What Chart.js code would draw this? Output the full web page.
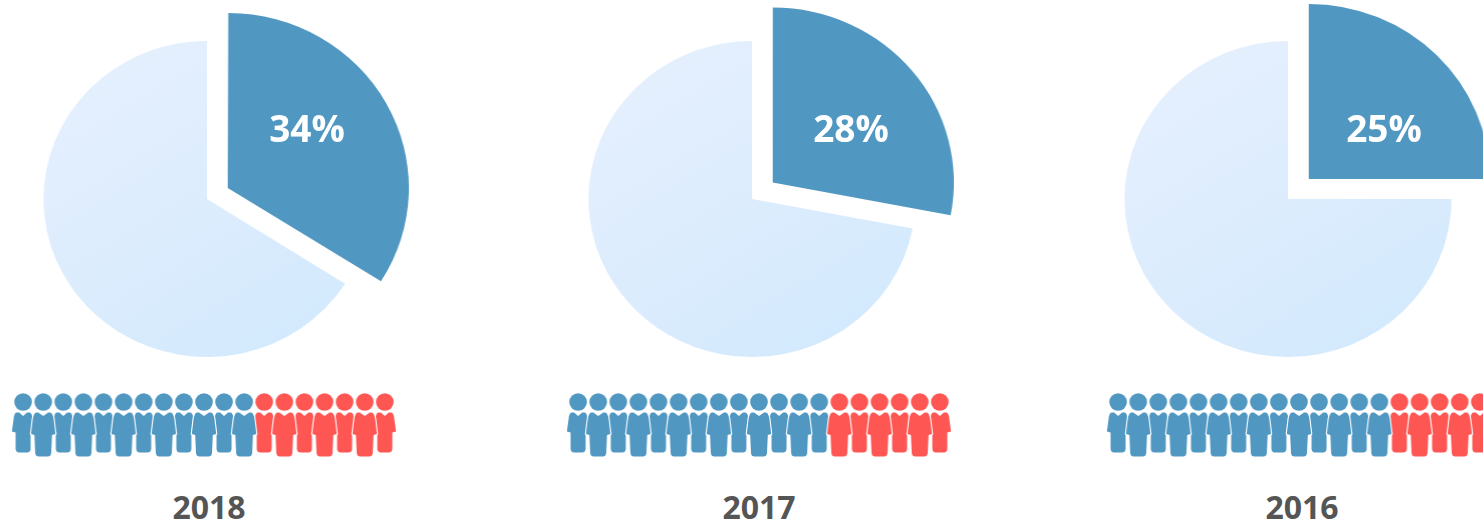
<!DOCTYPE html>
<html>
<head>
<meta charset="utf-8">
<title>Share by year</title>
<script src="https://cdn.jsdelivr.net/npm/chart.js@4"></script>
<style>
    html, body { margin: 0; padding: 0; background: #fff; width: 1483px; height: 526px; overflow: hidden; }
    canvas { position: absolute; }
    .pct, .year { position: absolute; transform: translateX(-50%); font-family: "Open Sans", sans-serif; font-weight: 700; white-space: nowrap; line-height: 1; }
    .pct { color: #fff; font-size: 37px; top: 109px; }
    .year { color: #555; font-size: 32px; top: 491px; }
</style>
</head>
<body>
<script>
const years = ["2018", "2017", "2016"];
const shares = [34, 28, 25];
const blueCounts = [12, 13, 14];
const redCounts = [7, 6, 5];

// page layout per year: pie centre, first person, text centres
const pieCenters = [207.2, 752, 1288];
const rowStarts = [23.3, 577.7, 1118.3];
const pctCenters = [307, 851, 1384];
const yearCenters = [209, 759, 1302];

const BLUE = "#5097c1";
const RED = "#fd5653";
const PIE_SIZE = 440;
const PIE_RADIUS = 158;
const SLICE_RADIUS = 175;
const PIE_STRETCH = 1.035;
const SLICE_GAP = 20;
const ROW_STEP = 20.1;

// small person glyph used as a point style
function personIcon(color, isMan) {
    const c = document.createElement("canvas");
    c.width = 30;
    c.height = 66;
    const g = c.getContext("2d");
    g.translate(15, 0);
    g.fillStyle = color;
    g.strokeStyle = "#fff";
    g.lineWidth = 2.2;
    g.lineJoin = "round";

    g.beginPath();
    g.arc(0, 9, 8.8, 0, Math.PI * 2);
    g.fill();

    g.beginPath();
    if (isMan) {
        g.moveTo(-5, 19.5);
        g.lineTo(0, 23);
        g.lineTo(5, 19.5);
        g.lineTo(7, 19.5);
        g.quadraticCurveTo(9.5, 20, 10.4, 26);
        g.lineTo(12.2, 41);
        g.lineTo(8.8, 42);
        g.lineTo(8, 60);
        g.quadraticCurveTo(7.6, 63.5, 4.5, 63.5);
        g.lineTo(-4.5, 63.5);
        g.quadraticCurveTo(-7.6, 63.5, -8, 60);
        g.lineTo(-8.8, 42);
        g.lineTo(-12.2, 41);
        g.lineTo(-10.4, 26);
        g.quadraticCurveTo(-9.5, 20, -7, 19.5);
    } else {
        g.moveTo(-4, 19.5);
        g.lineTo(0, 23);
        g.lineTo(4, 19.5);
        g.lineTo(6.5, 19.5);
        g.quadraticCurveTo(9, 20, 9.5, 26);
        g.lineTo(11.2, 38.5);
        g.lineTo(7.5, 39.5);
        g.lineTo(7.5, 56);
        g.quadraticCurveTo(7, 59.5, 4, 59.5);
        g.lineTo(-4, 59.5);
        g.quadraticCurveTo(-7, 59.5, -7.5, 56);
        g.lineTo(-7.5, 39.5);
        g.lineTo(-11.2, 38.5);
        g.lineTo(-9.5, 26);
        g.quadraticCurveTo(-9, 20, -6.5, 19.5);
    }
    g.closePath();
    g.stroke();
    g.fill();
    return c;
}

const icons = {
    blueMan: personIcon(BLUE, true),
    blueWoman: personIcon(BLUE, false),
    redMan: personIcon(RED, true),
    redWoman: personIcon(RED, false)
};

// the highlighted slice sticks out further than the rest of the pie
const sliceRadiusPlugin = {
    id: "sliceRadius",
    afterDatasetsUpdate(chart) {
        const arcs = chart.getDatasetMeta(0).data;
        const slice = arcs[0];
        // ArcElement grows the radius by offset / 4 * (1 - sin(circumference)), take that back out
        const grown = slice.options.offset / 4 * (1 - Math.sin(Math.min(Math.PI, slice.circumference)));
        slice.outerRadius = SLICE_RADIUS - grown;
        arcs[1].outerRadius = PIE_RADIUS;
        arcs.forEach(a => { a.innerRadius = 0; });
    }
};

function addLabel(cls, text, x) {
    const d = document.createElement("div");
    d.className = cls;
    d.textContent = text;
    d.style.left = x + "px";
    document.body.appendChild(d);
}

function createPie(i) {
    const canvas = document.createElement("canvas");
    canvas.width = PIE_SIZE;
    canvas.height = PIE_SIZE;
    canvas.style.left = (pieCenters[i] - PIE_SIZE / 2) + "px";
    canvas.style.top = (199 - PIE_SIZE / 2) + "px";
    canvas.style.transform = "scaleX(" + PIE_STRETCH + ")";
    document.body.appendChild(canvas);

    const ctx = canvas.getContext("2d");
    const mid = PIE_SIZE / 2;
    const fade = ctx.createLinearGradient(mid - 100, mid - 160, mid + 100, mid + 160);
    fade.addColorStop(0, "#e6f0fe");
    fade.addColorStop(1, "#d2e9fd");

    new Chart(ctx, {
        type: "pie",
        data: {
            labels: ["Yes", "No"],
            datasets: [{
                data: [shares[i], 100 - shares[i]],
                backgroundColor: [BLUE, fade],
                borderWidth: 0,
                clip: false,
                // Chart.js moves an arc by a quarter of its offset
                offset: [4 * SLICE_GAP / Math.sin(Math.PI * shares[i] / 100), 0]
            }]
        },
        options: {
            responsive: false,
            animation: false,
            events: [],
            plugins: { legend: { display: false }, tooltip: { enabled: false } }
        },
        plugins: [sliceRadiusPlugin]
    });
}

function createRow(i) {
    const canvas = document.createElement("canvas");
    canvas.width = Math.round(ROW_STEP * 21);
    canvas.height = 70;
    canvas.style.left = (rowStarts[i] - ROW_STEP) + "px";
    canvas.style.top = "391px";
    document.body.appendChild(canvas);

    // women go first so the wider men sit on top of them
    const total = blueCounts[i] + redCounts[i];
    const people = [];
    for (let n = 0; n < total; n += 2) people.push({ x: n, y: 0 });
    for (let n = 1; n < total; n += 2) people.push({ x: n, y: 0 });

    new Chart(canvas.getContext("2d"), {
        type: "scatter",
        data: {
            datasets: [{
                data: people,
                clip: false,
                pointStyle: c => {
                    const n = c.raw.x;
                    const color = n < blueCounts[i] ? "blue" : "red";
                    return icons[color + (n % 2 ? "Man" : "Woman")];
                }
            }]
        },
        options: {
            responsive: false,
            animation: false,
            events: [],
            layout: { padding: 0, autoPadding: false },
            scales: {
                x: { type: "linear", display: false, min: -1, max: 20 },
                y: { type: "linear", display: false, min: -1, max: 1 }
            },
            plugins: { legend: { display: false }, tooltip: { enabled: false } }
        }
    });
}

years.forEach((year, i) => {
    createPie(i);
    createRow(i);
    addLabel("pct", shares[i] + "%", pctCenters[i]);
    addLabel("year", year, yearCenters[i]);
});
</script>
</body>
</html>
